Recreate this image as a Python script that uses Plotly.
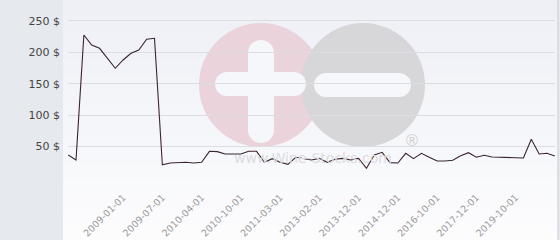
import plotly.graph_objects as go

dates = [
    "2008-06-01", "2008-07-01", "2008-08-01", "2008-09-01", "2008-10-01", "2008-11-01", "2008-12-01",
    "2009-01-01", "2009-02-01", "2009-03-01", "2009-04-01", "2009-05-01",
    "2009-07-01", "2009-09-01", "2009-10-01", "2009-12-01", "2010-02-01",
    "2010-04-01", "2010-05-01", "2010-06-01", "2010-07-01", "2010-08-01",
    "2010-10-01", "2010-11-01", "2010-12-01", "2011-01-01", "2011-02-01",
    "2011-03-01", "2011-06-01", "2011-09-01", "2012-01-01", "2012-06-01",
    "2013-02-01", "2013-04-01", "2013-06-01", "2013-08-01", "2013-10-01",
    "2013-12-01", "2014-02-01", "2014-05-01", "2014-07-01", "2014-09-01",
    "2014-12-01", "2015-03-01", "2015-06-01", "2015-10-01", "2016-03-01",
    "2016-10-01", "2016-12-01", "2017-03-01", "2017-06-01", "2017-09-01",
    "2017-12-01", "2018-03-01", "2018-07-01", "2018-11-01", "2019-05-01",
    "2019-10-01", "2020-01-01", "2020-05-01", "2020-09-01", "2021-01-01",
    "2021-05-01",
]

prices = [
    36.6, 28.7, 227.7, 211.8, 206.5, 190.6, 174.7,
    187.9, 198.6, 203.8, 220.9, 222.5,
    21.0, 23.9, 25.0, 25.0, 24.0,
    25.0, 42.5, 42.0, 38.2, 38.2,
    38.2, 42.5, 42.5, 25.0, 30.8,
    25.0, 21.8, 33.0, 31.3, 28.7,
    31.3, 25.0, 29.8, 31.3, 28.7,
    31.3, 15.4, 36.6, 40.9, 24.4,
    23.9, 39.3, 30.8, 39.3, 33.0,
    27.0, 27.0, 28.2, 35.5, 40.3,
    33.0, 36.1, 33.4, 33.4, 33.4,
    32.3, 31.8, 61.6, 38.2, 39.3,
    35.0,
]

tick_labels = [
    "2009-01-01", "2009-07-01", "2010-04-01", "2010-10-01", "2011-03-01",
    "2013-02-01", "2013-12-01", "2014-12-01", "2016-10-01", "2017-12-01",
    "2019-10-01",
]
y_ticks = [0, 50, 100, 150, 200, 250]
y_tick_text = ["", "50 $", "100 $", "150 $", "200 $", "250 $"]

W, H = 560, 240
L, R, T, B = 68, 5, 0, 62
PW, PH = W - L - R, H - T - B


def px(x):
    return (x - L) / PW


def py(y):
    return (H - B - y) / PH


shapes = []
# light panel with vertical gradient (approximated by bands)
top_c = (238, 240, 246)
bot_c = (252, 252, 253)
n = 16
for i in range(n):
    f = i / (n - 1)
    c = tuple(round(top_c[k] + (bot_c[k] - top_c[k]) * f) for k in range(3))
    y0 = i * H / n
    y1 = (i + 1) * H / n + 1
    shapes.append(dict(type="rect", xref="paper", yref="paper",
                       x0=px(63), x1=px(558), y0=py(y1), y1=py(y0),
                       fillcolor="rgb(%d,%d,%d)" % c, line=dict(width=0), layer="below"))
# left grey strip and right edge
shapes.append(dict(type="rect", xref="paper", yref="paper", x0=px(0), x1=px(63),
                   y0=py(H), y1=py(0), fillcolor="#e6eaee", line=dict(width=0), layer="below"))
shapes.append(dict(type="rect", xref="paper", yref="paper", x0=px(558), x1=px(560),
                   y0=py(H), y1=py(0), fillcolor="#e6eaee", line=dict(width=0), layer="below"))
shapes.append(dict(type="line", xref="paper", yref="paper", x0=px(558), x1=px(558),
                   y0=py(H), y1=py(0), line=dict(color="#c9ccd0", width=1), layer="below"))


def circle(cx, cy, r, color):
    shapes.append(dict(type="circle", xref="paper", yref="paper",
                       x0=px(cx - r), x1=px(cx + r), y0=py(cy + r), y1=py(cy - r),
                       fillcolor=color, line=dict(width=0), layer="below"))


def rbar(x0, y0, x1, y1, color):
    # rounded bar: rect plus round ends
    if (x1 - x0) >= (y1 - y0):
        r = (y1 - y0) / 2
        shapes.append(dict(type="rect", xref="paper", yref="paper",
                           x0=px(x0 + r), x1=px(x1 - r), y0=py(y1), y1=py(y0),
                           fillcolor=color, line=dict(width=0), layer="below"))
        circle(x0 + r, (y0 + y1) / 2, r, color)
        circle(x1 - r, (y0 + y1) / 2, r, color)
    else:
        r = (x1 - x0) / 2
        shapes.append(dict(type="rect", xref="paper", yref="paper",
                           x0=px(x0), x1=px(x1), y0=py(y1 - r), y1=py(y0 + r),
                           fillcolor=color, line=dict(width=0), layer="below"))
        circle((x0 + x1) / 2, y0 + r, r, color)
        circle((x0 + x1) / 2, y1 - r, r, color)


# watermark
circle(261, 85, 62, "#ead3da")
circle(363, 85, 62, "#d7d7da")
white = "#f6f7fa"
rbar(248, 40, 274, 143, white)
rbar(215, 72, 306, 96, white)
rbar(314, 73, 411, 97, white)

fig = go.Figure()
fig.add_trace(go.Scatter(
    x=dates, y=prices, mode="lines",
    line=dict(color="#3a2532", width=1.1),
    hoverinfo="skip", showlegend=False,
))

fig.update_layout(
    width=W, height=H,
    margin=dict(l=L, r=R, t=T, b=B),
    paper_bgcolor="#e6eaee",
    plot_bgcolor="rgba(0,0,0,0)",
    shapes=shapes,
    font=dict(family="DejaVu Sans", size=11, color="#444444"),
    annotations=[
        dict(text="www.Wine-Stocks.com", xref="paper", yref="paper",
             x=px(313), y=py(158), showarrow=False,
             font=dict(family="DejaVu Sans", size=14, color="#dcdcde"),
             xanchor="center", yanchor="middle"),
        dict(text="®", xref="paper", yref="paper",
             x=px(412), y=py(140), showarrow=False,
             font=dict(family="DejaVu Sans", size=16, color="#d2d2d5"),
             xanchor="center", yanchor="middle"),
    ],
)

fig.update_xaxes(
    type="category",
    range=[-0.02, len(dates) - 1 + 0.02],
    tickmode="array", tickvals=tick_labels, ticktext=tick_labels,
    tickangle=-45,
    tickfont=dict(family="DejaVu Sans", size=9.5, color="#9a9a9a"),
    showgrid=False, zeroline=False, showline=False,
    ticks="", ticklabelstandoff=11,
    fixedrange=True,
)

fig.update_yaxes(
    range=[0, 283.4],
    tickmode="array", tickvals=y_ticks, ticktext=y_tick_text,
    tickfont=dict(family="DejaVu Sans", size=11, color="#444444"),
    showgrid=True, gridcolor="#dcdde0", gridwidth=1,
    zeroline=False, showline=False, ticks="", ticklabelstandoff=7,
    fixedrange=True,
)

fig.write_html("out.html")
